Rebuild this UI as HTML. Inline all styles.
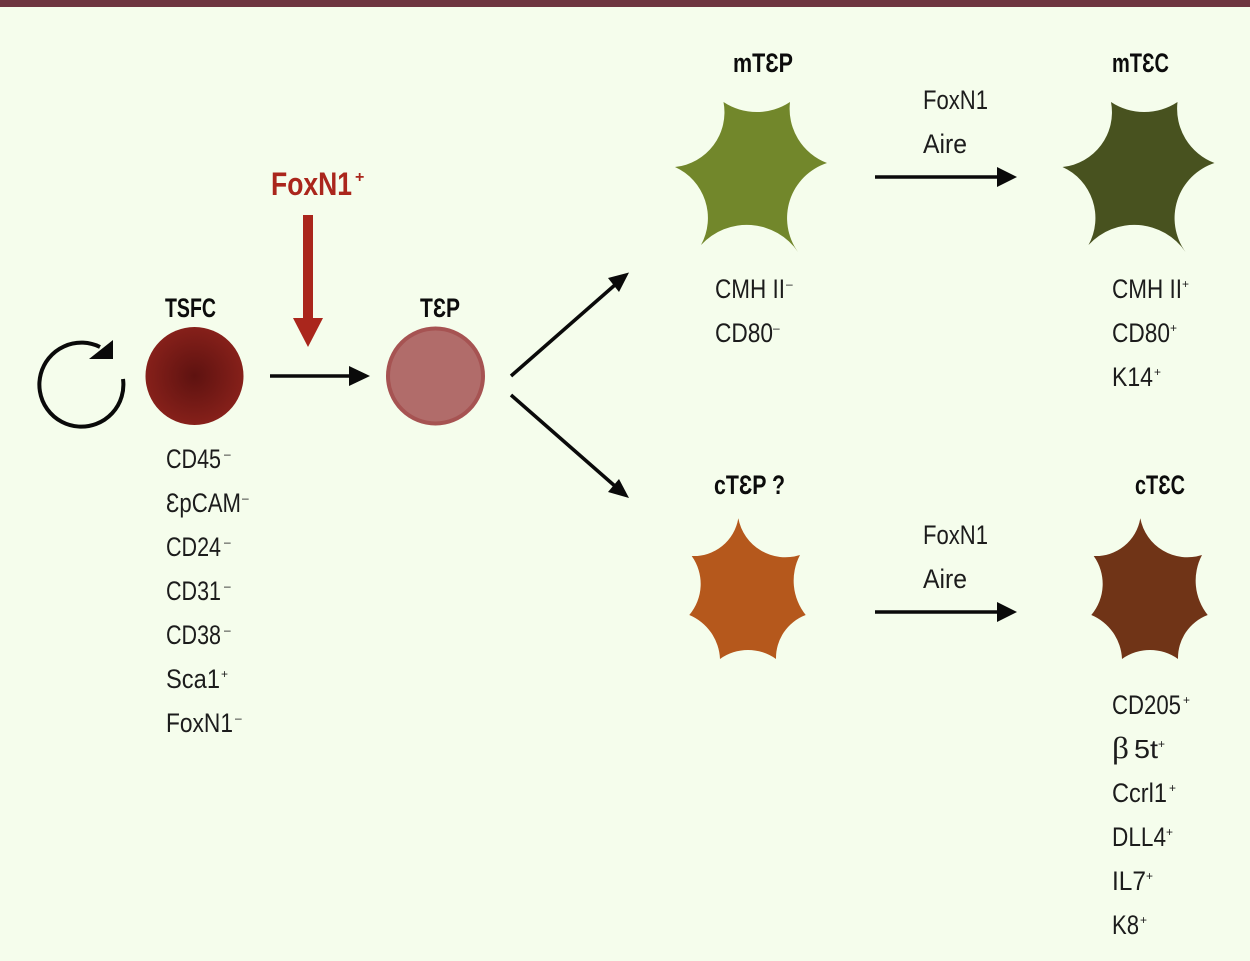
<!DOCTYPE html>
<html>
<head>
<meta charset="utf-8">
<style>
html,body{margin:0;padding:0;background:#f5fdec;}
svg{display:block;}
text{font-family:"Liberation Sans","DejaVu Sans",sans-serif;fill:#1c1c1c;font-size:27px;}
.b{font-weight:bold;fill:#0c0c0c;}
.s{font-size:12px;}
</style>
</head>
<body>
<svg width="1250" height="961" viewBox="0 0 1250 961" xmlns="http://www.w3.org/2000/svg">
<defs>
<radialGradient id="g"><stop offset="0" stop-color="#5e1210"/><stop offset="1" stop-color="#86201a"/></radialGradient>
<path id="ms" d="M723.5 102A60 60 0 0 0 790 102A58 58 0 0 0 827 163A58 58 0 0 0 798 252A62 62 0 0 0 701 245A56 56 0 0 0 675 167A55 55 0 0 0 723.5 102Z"/>
<path id="cs" d="M738.3 518.3A48 48 0 0 0 800 555A55 55 0 0 0 805.7 615A46 46 0 0 0 776 659A48 48 0 0 0 720 659A50 50 0 0 0 689.3 615A48 48 0 0 0 691.7 556A45 45 0 0 0 738.3 518.3Z"/>
</defs>
<rect width="1250" height="961" fill="#f5fdec"/>
<rect width="1250" height="7" fill="#6e3640"/>

<!-- loop -->
<path d="M123 379A42 42 0 1 1 100 347" fill="none" stroke="#0a0a0a" stroke-width="4"/>
<polygon points="113,340 113,359 89,359" fill="#0a0a0a"/>

<!-- cells -->
<circle cx="194.5" cy="376" r="49" fill="url(#g)"/>
<circle cx="435.5" cy="376" r="47.5" fill="#b16c6a" stroke="#a65352" stroke-width="4"/>
<use href="#ms" fill="#72872b"/>
<use href="#ms" x="387.5" fill="#48521f"/>
<use href="#cs" fill="#b5581c"/>
<use href="#cs" x="402" fill="#703417"/>

<!-- red arrow -->
<rect x="303" y="215" width="10" height="105" fill="#aa261c"/>
<polygon points="293,318 323,318 308,347" fill="#aa261c"/>

<!-- arrows -->
<g stroke="#0a0a0a" stroke-width="3.5" fill="none">
<line x1="270" y1="376" x2="352" y2="376"/>
<line x1="875" y1="177" x2="1000" y2="177"/>
<line x1="875" y1="612" x2="1000" y2="612"/>
<line x1="511" y1="376" x2="616" y2="284"/>
<line x1="511" y1="395" x2="616" y2="487"/>
</g>
<g fill="#0a0a0a">
<polygon points="349,366 349,386 370,376"/>
<polygon points="997,167 997,187 1017,177"/>
<polygon points="997,602 997,622 1017,612"/>
<polygon points="629,272.5 608,278 619,292"/>
<polygon points="629,498 608,492 619,479"/>
</g>

<!-- headings -->
<text class="b" x="165" y="317" textLength="51" lengthAdjust="spacingAndGlyphs">TSFC</text>
<text class="b" x="420" y="317" textLength="40" lengthAdjust="spacingAndGlyphs">TƐP</text>
<text class="b" x="733" y="72" textLength="60" lengthAdjust="spacingAndGlyphs">mTƐP</text>
<text class="b" x="1112" y="72" textLength="57" lengthAdjust="spacingAndGlyphs">mTƐC</text>
<text class="b" x="714" y="494" textLength="71" lengthAdjust="spacingAndGlyphs">cTƐP ?</text>
<text class="b" x="1135" y="494" textLength="50" lengthAdjust="spacingAndGlyphs">cTƐC</text>
<text x="271" y="195" textLength="81" lengthAdjust="spacingAndGlyphs" style="font-size:32px;font-weight:bold;fill:#aa261c">FoxN1</text>
<text x="355" y="182" style="font-size:16px;font-weight:bold;fill:#aa261c">+</text>

<g transform="translate(0,-1)">
<!-- TSFC markers -->
<text x="166" y="469" textLength="55" lengthAdjust="spacingAndGlyphs">CD45</text><text class="s" x="224" y="459">–</text>
<text x="166" y="513" textLength="75" lengthAdjust="spacingAndGlyphs">ƐpCAM</text><text class="s" x="242" y="503">–</text>
<text x="166" y="557" textLength="55" lengthAdjust="spacingAndGlyphs">CD24</text><text class="s" x="224" y="547">–</text>
<text x="166" y="601" textLength="55" lengthAdjust="spacingAndGlyphs">CD31</text><text class="s" x="224" y="591">–</text>
<text x="166" y="645" textLength="55" lengthAdjust="spacingAndGlyphs">CD38</text><text class="s" x="224" y="635">–</text>
<text x="166" y="689" textLength="54" lengthAdjust="spacingAndGlyphs">Sca1</text><text class="s" x="221" y="679">+</text>
<text x="166" y="733" textLength="67" lengthAdjust="spacingAndGlyphs">FoxN1</text><text class="s" x="235" y="723">–</text>

<!-- mTEP markers -->
<text x="715" y="299" textLength="70" lengthAdjust="spacingAndGlyphs">CMH II</text><text class="s" x="786" y="289">–</text>
<text x="715" y="343" textLength="58" lengthAdjust="spacingAndGlyphs">CD80</text><text class="s" x="773" y="333">–</text>

<!-- mTEC markers -->
<text x="1112" y="299" textLength="70" lengthAdjust="spacingAndGlyphs">CMH II</text><text class="s" x="1182" y="289">+</text>
<text x="1112" y="343" textLength="58" lengthAdjust="spacingAndGlyphs">CD80</text><text class="s" x="1170" y="333">+</text>
<text x="1112" y="387" textLength="41" lengthAdjust="spacingAndGlyphs">K14</text><text class="s" x="1154" y="377">+</text>

<!-- transitions -->
<text x="923" y="110" textLength="65" lengthAdjust="spacingAndGlyphs">FoxN1</text>
<text x="923" y="154" textLength="44" lengthAdjust="spacingAndGlyphs">Aire</text>
<text x="923" y="545" textLength="65" lengthAdjust="spacingAndGlyphs">FoxN1</text>
<text x="923" y="589" textLength="44" lengthAdjust="spacingAndGlyphs">Aire</text>

<!-- cTEC markers -->
<text x="1112" y="715" textLength="69" lengthAdjust="spacingAndGlyphs">CD205</text><text class="s" x="1183" y="705">+</text>
<text x="1112" y="759" textLength="17" lengthAdjust="spacingAndGlyphs" style="font-family:'Liberation Serif',serif;font-size:31px">β</text>
<text x="1134" y="759" textLength="24" lengthAdjust="spacingAndGlyphs" style="font-size:26px">5t</text><text class="s" x="1158" y="749">+</text>
<text x="1112" y="803" textLength="55" lengthAdjust="spacingAndGlyphs">Ccrl1</text><text class="s" x="1169" y="793">+</text>
<text x="1112" y="847" textLength="54" lengthAdjust="spacingAndGlyphs">DLL4</text><text class="s" x="1166" y="837">+</text>
<text x="1112" y="891" textLength="34" lengthAdjust="spacingAndGlyphs">IL7</text><text class="s" x="1146" y="881">+</text>
<text x="1112" y="935" textLength="27" lengthAdjust="spacingAndGlyphs">K8</text><text class="s" x="1140" y="925">+</text>
</g>
</svg>
</body>
</html>
